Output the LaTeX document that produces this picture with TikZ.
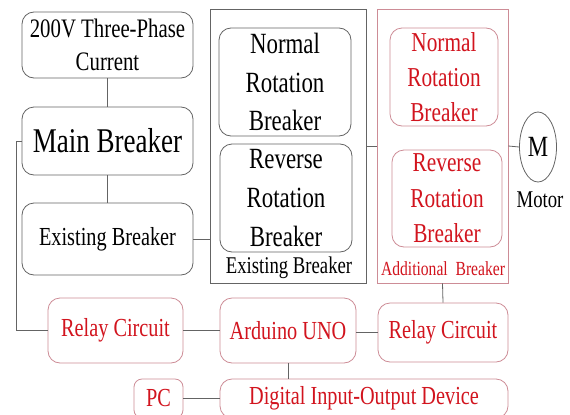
\documentclass[tikz,border=0pt]{standalone}
\usepackage{fontspec}
\setmainfont{Liberation Serif}[FakeStretch=0.78]
\usetikzlibrary{shapes.geometric}
\definecolor{relayred}{RGB}{210,20,30}
\definecolor{pinkline}{RGB}{205,140,150}
\definecolor{wire}{RGB}{100,100,100}
\begin{document}
\begin{tikzpicture}[x=0.75pt,y=-0.75pt,
  blk/.style={draw=wire,rounded corners=9pt,line width=0.6pt,inner sep=0pt,align=center},
  redblk/.style={blk,draw=pinkline,text=relayred},
  grp/.style={draw=wire,line width=0.6pt,inner sep=0pt},
  wr/.style={draw=wire,line width=0.6pt}]
\useasboundingbox (0,0) rectangle (570,414);
\clip (0,0) rectangle (570,414);
\fill[white] (0,0) rectangle (570,414);

% groups
\node[grp,minimum width=117pt,minimum height=205.5pt] (exgrp) at (288,146) {};
\node[grp,draw=pinkline,minimum width=98.25pt,minimum height=205.5pt] (adgrp) at (442.5,146) {};
\node[font=\fontsize{18}{20}\selectfont] (exlbl) at (289,268) {Existing Breaker};
\node[text=relayred,font=\fontsize{15}{17}\selectfont] (adlbl) at (443,269) {Additional\ \ Breaker};

% left column
\node[blk,minimum width=128.25pt,minimum height=49.5pt,font=\fontsize{20}{25}\selectfont] (cur) at (107.5,45) {200V Three-Phase\\Current};
\node[blk,minimum width=128.25pt,minimum height=51pt,font=\fontsize{26}{28}\selectfont] (main) at (107.5,141) {Main Breaker};
\node[blk,minimum width=128.25pt,minimum height=54pt,font=\fontsize{19.5}{22}\selectfont] (exist) at (107.5,239) {Existing Breaker};

% breakers
\node[blk,minimum width=99pt,minimum height=81pt,font=\fontsize{22}{29}\selectfont] (nrb) at (285,82) {Normal\\Rotation\\Breaker};
\node[blk,minimum width=99pt,minimum height=81pt,font=\fontsize{22}{29}\selectfont] (rrb) at (286,198) {Reverse\\Rotation\\Breaker};
\node[redblk,minimum width=81pt,minimum height=73.5pt,font=\fontsize{20.5}{26}\selectfont] (nra) at (444,77) {Normal\\Rotation\\Breaker};
\node[redblk,minimum width=82.5pt,minimum height=72.75pt,font=\fontsize{20.5}{26.5}\selectfont] (rra) at (447,198.5) {Reverse\\Rotation\\Breaker};

% motor
\node[ellipse,draw=wire,line width=0.6pt,minimum width=27.75pt,minimum height=52.5pt,inner sep=0pt,font=\fontsize{22}{24}\selectfont] (motor) at (538,147) {M};
\node[font=\fontsize{18}{20}\selectfont] (motlbl) at (540,200) {Motor};

% control
\node[redblk,minimum width=101.25pt,minimum height=48.75pt,font=\fontsize{19.5}{22}\selectfont] (relayL) at (115.5,330.5) {Relay Circuit};
\node[redblk,minimum width=102pt,minimum height=48.75pt,font=\fontsize{19.5}{22}\selectfont] (ard) at (288,330.5) {Arduino UNO};
\node[redblk,minimum width=97.5pt,minimum height=44.25pt,font=\fontsize{19.5}{22}\selectfont] (relayR) at (443,332.5) {Relay Circuit};
\node[redblk,rounded corners=6pt,minimum width=36.75pt,minimum height=29.25pt,font=\fontsize{19.5}{22}\selectfont] (pc) at (158.5,398.5) {PC};
\node[redblk,minimum width=216pt,minimum height=29.25pt,font=\fontsize{19.5}{22}\selectfont] (dio) at (364,398.5) {Digital Input-Output Device};

\coordinate (feed) at (16,141);

\draw[wr] (cur) -- (main);
\draw[wr] (main) -- (exist);
\draw[wr] (exist.east) -- (exist.east -| exgrp.west);
\draw[wr] (exgrp.east) -- (adgrp.west);
\draw[wr] (adgrp.east) -- (motor.west);
\draw[wr] (adgrp.south) -- (relayR.north);
\draw[wr] (main.west) -- (feed) |- (relayL.west);
\draw[wr] (relayL) -- (ard);
\draw[wr] (relayR.west) -- (relayR.west -| ard.east);
\draw[wr] (ard) -- (ard |- dio.north);
\draw[wr] (pc) -- (dio);
\end{tikzpicture}
\end{document}
